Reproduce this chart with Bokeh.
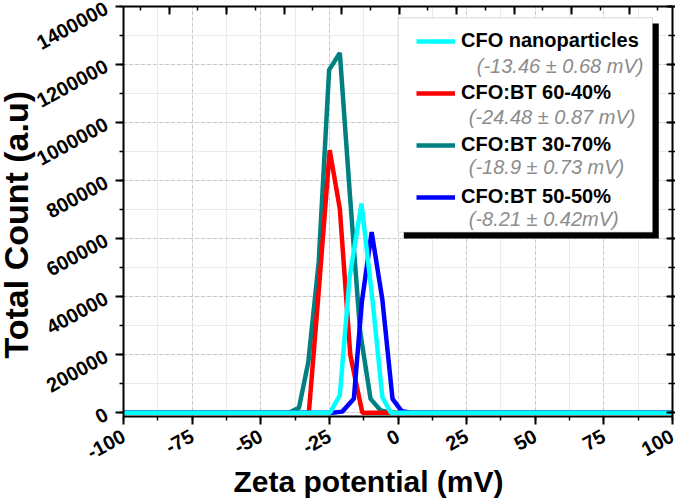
from bokeh.plotting import figure
from bokeh.models import (Range1d, LinearAxis, SingleIntervalTicker, CustomJSTickFormatter,
                          Legend, LegendItem, BoxAnnotation, Label, Title)
from bokeh.embed import file_html
from bokeh.resources import INLINE

# ---------------- data ----------------
x_cfo = [-100, -24.8, -21.2, -17.6, -13.3, -9.2, -5.7, -2.6, 100]
y_cfo = [0, 0, 60000, 470000, 721000, 380000, 54000, 0, 0]

x_6040 = [-100, -32.5, -28.8, -24.9, -21.2, -17.4, -13.0, -3.4, 100]
y_6040 = [0, 0, 430000, 905000, 703000, 200000, 0, 0, 0]

x_3070 = [-100, -39.8, -36.1, -32.7, -28.9, -25.1, -21.2, -17.6, -13.8, -10.0, -6.3, -2.5, 100]
y_3070 = [0, 0, 17000, 174000, 520000, 1182000, 1240000, 760000, 280000, 48000, 8000, 0, 0]

x_5050 = [-100, -23.9, -20.3, -16.1, -13.2, -9.6, -5.7, -2.0, 1.4, 5.0, 100]
y_5050 = [0, 0, 4000, 48000, 380000, 623000, 390000, 48000, 5000, 0, 0]

series_names = ["CFO nanoparticles", "CFO:BT 60-40%", "CFO:BT 30-70%", "CFO:BT 50-50%"]
zeta_texts = ["(-13.46 \u00b1 0.68 mV)", "(-24.48 \u00b1 0.87 mV)",
              "(-18.9 \u00b1 0.73 mV)", "(-8.21 \u00b1 0.42mV)"]
x_ticks = [-100, -75, -50, -25, 0, 25, 50, 75, 100]
x_tick_labels = ["-100", "-75", "-50", "-25", "0", "25", "50", "75", "100"]
y_ticks = [0, 200000, 400000, 600000, 800000, 1000000, 1200000, 1400000]
y_tick_labels = ["0", "200000", "400000", "600000", "800000", "1000000", "1200000", "1400000"]
x_label = "Zeta potential (mV)"
y_label = "Total Count (a.u)"

# ---------------- layout ----------------
X0, X1 = -100.05, 100.05
Y0, Y1 = -12800, 1400300
FL, FR, FT, FB = 122.7, 671.7, 6.0, 416.0   # frame edges in page pixels

def dx(px):
    return X0 + (px - FL) / (FR - FL) * (X1 - X0)

def dy(py):
    return Y1 - (py - FT) / (FB - FT) * (Y1 - Y0)

FONT = "Liberation Sans"

p = figure(width=675, height=503, x_range=Range1d(X0, X1), y_range=Range1d(Y0, Y1),
           output_backend="svg", toolbar_location=None,
           min_border_left=123, min_border_right=3, min_border_top=6, min_border_bottom=87)
p.styles = {"position": "absolute", "left": "0px", "top": "0px"}
p.outline_line_color = None
p.background_fill_color = "white"

xt = SingleIntervalTicker(interval=25, num_minor_ticks=2)
yt = SingleIntervalTicker(interval=200000, num_minor_ticks=2)

xa = p.xaxis[0]
ya = p.yaxis[0]
xa.ticker = xt
ya.ticker = yt
xa.major_label_overrides = {v: s for v, s in zip(x_ticks, x_tick_labels)}
ya.major_label_overrides = {v: s for v, s in zip(y_ticks, y_tick_labels)}
p.xgrid[0].ticker = xt
p.ygrid[0].ticker = yt

for ax in (xa, ya):
    ax.axis_line_width = 2
    ax.axis_line_color = "black"
    ax.major_tick_line_width = 2
    ax.minor_tick_line_width = 1.5
    ax.major_tick_in = 0
    ax.minor_tick_in = 0
    ax.major_tick_out = 8
    ax.minor_tick_out = 4
    ax.major_label_text_font = FONT
    ax.major_label_text_font_style = "bold"
    ax.major_label_text_font_size = "20px"
    ax.major_label_text_color = "black"
    ax.major_label_orientation = 0.5
xa.major_label_standoff = 10
ya.major_label_standoff = 9

for g in (p.xgrid[0], p.ygrid[0]):
    g.grid_line_color = "#c4c4c4"
    g.grid_line_dash = "3 3"
    g.grid_line_width = 1
    g.minor_grid_line_color = "#ebebeb"
    g.minor_grid_line_width = 1

blank = CustomJSTickFormatter(code="return ''")

# top axis (own tick spacing, inward ticks, no labels)
p.extra_x_ranges = {"top": Range1d(4.1, 195.1)}
top_ax = LinearAxis(x_range_name="top", ticker=SingleIntervalTicker(interval=20, num_minor_ticks=2),
                    formatter=blank, major_label_text_font_size="1px", major_label_standoff=0,
                    major_tick_in=8, major_tick_out=0, minor_tick_in=4, minor_tick_out=0,
                    axis_line_width=2, major_tick_line_width=2, minor_tick_line_width=1.5)
p.add_layout(top_ax, "above")

right_ax = LinearAxis(ticker=SingleIntervalTicker(interval=200000, num_minor_ticks=2),
                      formatter=blank, major_label_text_font_size="1px", major_label_standoff=0,
                      major_tick_in=6, major_tick_out=3, minor_tick_in=4, minor_tick_out=3,
                      axis_line_width=2, major_tick_line_width=2, minor_tick_line_width=1.5)
p.add_layout(right_ax, "right")

# axis titles (off-centre as in the reference)
p.add_layout(Title(text=x_label, align="left", offset=110, standoff=-11,
                   text_font=FONT, text_font_style="bold", text_font_size="30px",
                   text_color="black"), "below")
p.add_layout(Title(text=y_label, align="left", offset=58, standoff=-12,
                   text_font=FONT, text_font_style="bold", text_font_size="34px",
                   text_color="black"), "left")

# ---------------- lines ----------------
LW = 4.5
r_3070 = p.line(x_3070, y_3070, line_color="#008080", line_width=LW)
r_6040 = p.line(x_6040, y_6040, line_color="#ff0000", line_width=LW)
r_5050 = p.line(x_5050, y_5050, line_color="#0000ff", line_width=LW)
r_cfo = p.line(x_cfo, y_cfo, line_color="#00ffff", line_width=LW)

# ---------------- legend ----------------
shadow = BoxAnnotation(left=dx(403), right=dx(658), top=dy(23), bottom=dy(238),
                       fill_color="black", fill_alpha=1, line_color=None)
box = BoxAnnotation(left=dx(397.3), right=dx(651.7), top=dy(17.3), bottom=dy(231.7),
                    fill_color="white", fill_alpha=1, line_color="#808080", line_width=1)
p.add_layout(shadow)
p.add_layout(box)

legend = Legend(items=[LegendItem(label=series_names[0], renderers=[r_cfo]),
                       LegendItem(label=series_names[1], renderers=[r_6040]),
                       LegendItem(label=series_names[2], renderers=[r_3070]),
                       LegendItem(label=series_names[3], renderers=[r_5050])],
                location=(293, 208), orientation="vertical",
                glyph_width=39, glyph_height=20, label_height=20, label_standoff=6,
                spacing=29, padding=0, margin=0,
                border_line_color=None, background_fill_alpha=0,
                label_text_font=FONT, label_text_font_style="bold",
                label_text_font_size="20px", label_text_color="black")
p.add_layout(legend)

sub_px = [(476, 65), (468, 116.7), (468, 166.7), (468, 218.3)]
for txt, (sx, sy) in zip(zeta_texts, sub_px):
    p.add_layout(Label(x=dx(sx), y=dy(sy), text=txt, text_font=FONT, text_font_style="italic",
                       text_font_size="20px", text_color="#8c8c8c",
                       text_baseline="middle", text_align="left"))

open("out.html", "w").write(file_html(p, INLINE))
